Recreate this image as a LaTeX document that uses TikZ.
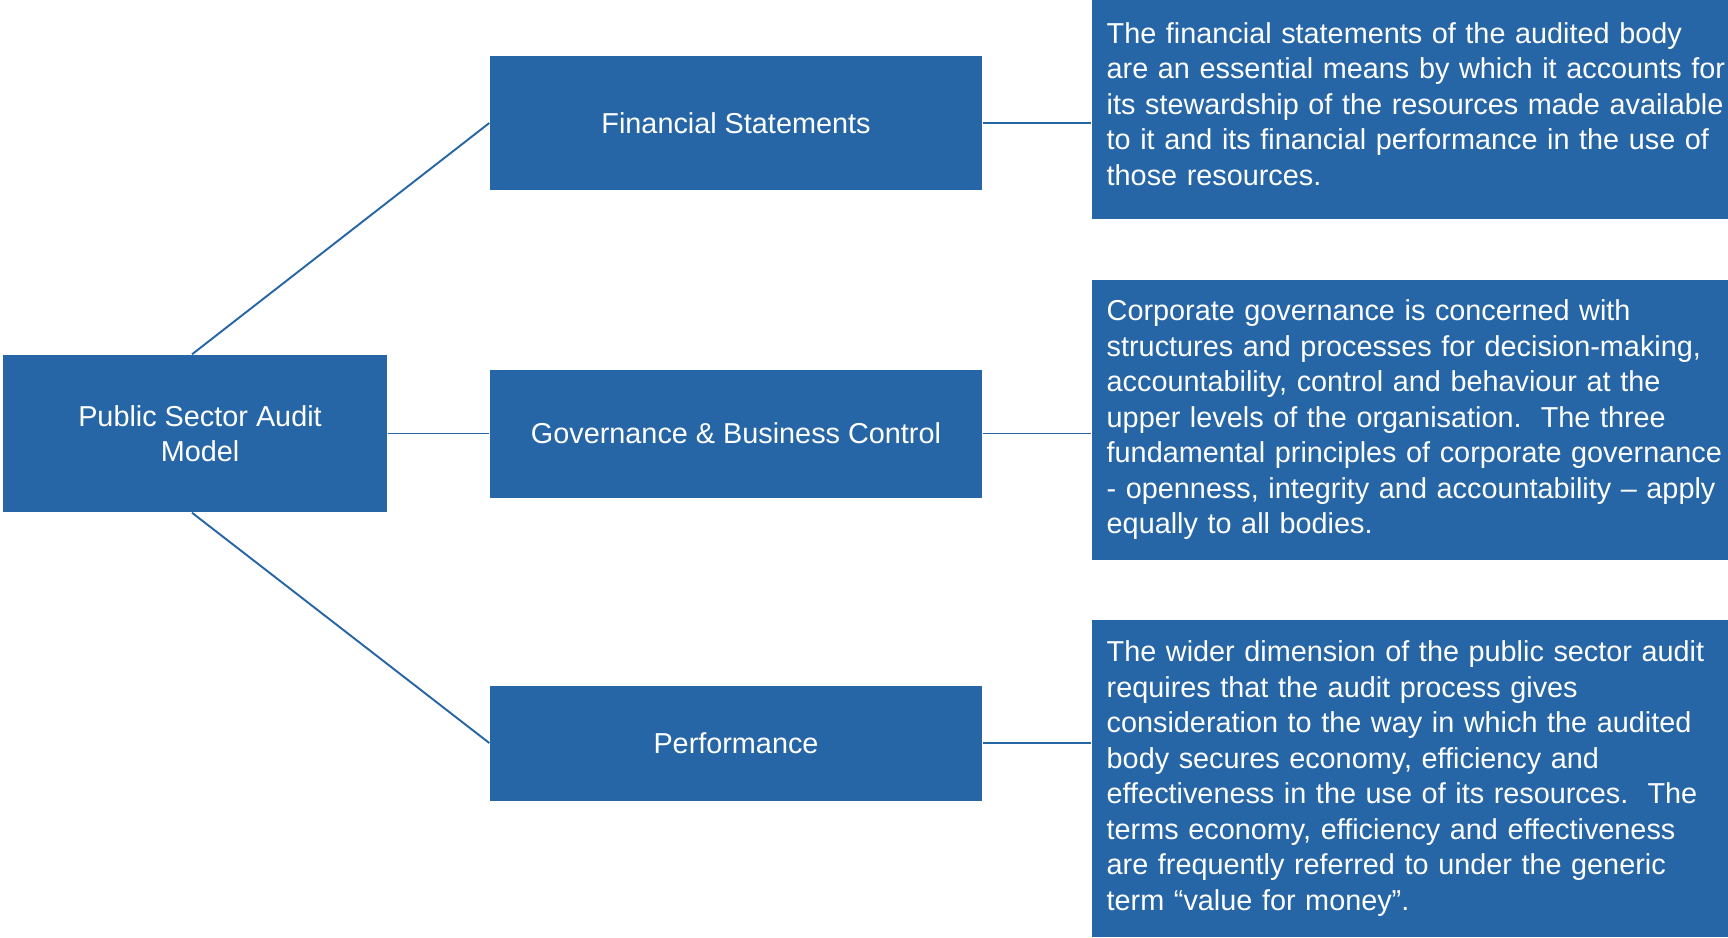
\documentclass[tikz,border=0pt]{standalone}
\usepackage{fontspec}
\setmainfont{Liberation Sans}
\definecolor{auditblue}{HTML}{2766A6}

\begin{document}
\begin{tikzpicture}[
    box/.style={fill=auditblue, text=white, align=center, inner sep=0pt,
        font=\fontsize{8.2}{10.1}\selectfont},
    desc/.style={fill=auditblue, text=white, align=left, anchor=west,
        text width=6.4cm, inner xsep=0.15cm, inner ysep=0pt,
        font=\fontsize{8.2}{10.1}\selectfont},
    link/.style={draw=auditblue, line width=0.55pt}]

    \useasboundingbox (0,0) rectangle (17.28,-9.37);

    % === left box ===
    \node[box, minimum width=3.84cm, minimum height=1.57cm] (model) at (1.95,-4.335)
        {\hspace*{0.1cm}Public Sector Audit\\\hspace*{0.1cm}Model};

    % === middle boxes ===
    \node[box, minimum width=4.92cm, minimum height=1.34cm] (fin) at (7.36,-1.23)
        {Financial Statements};
    \node[box, minimum width=4.92cm, minimum height=1.28cm] (gov) at (7.36,-4.335)
        {Governance \& Business Control};
    \node[box, minimum width=4.92cm, minimum height=1.15cm] (perf) at (7.36,-7.43)
        {Performance};

    % === right boxes ===
    \node[desc, minimum height=2.30cm] (finnote) at (10.91,-1.04)
        {The financial statements of the audited body\\
         are an essential means by which it accounts for\\
         its stewardship of the resources made available\\
         to it and its financial performance in the use of\\
         those resources.};
    \node[desc, minimum height=2.80cm] (govnote) at (10.91,-4.20)
        {Corporate governance is concerned with\\
         structures and processes for decision-making,\\
         accountability, control and behaviour at the\\
         upper levels of the organisation.\ \ The three\\
         fundamental principles of corporate governance\\
         - openness, integrity and accountability – apply\\
         equally to all bodies.};
    \node[desc, minimum height=3.17cm] (perfnote) at (10.91,-7.785)
        {The wider dimension of the public sector audit\\
         requires that the audit process gives\\
         consideration to the way in which the audited\\
         body secures economy, efficiency and\\
         effectiveness in the use of its resources.\ \ The\\
         terms economy, efficiency and effectiveness\\
         are frequently referred to under the generic\\
         term “value for money”.};

    % === connectors ===
    \draw[link] ([xshift=-0.03cm]model.north) -- (fin.west);
    \draw[link] (model.east) -- (gov.west);
    \draw[link] ([xshift=-0.03cm]model.south) -- (perf.west);

    \draw[link] (fin.east) -- (fin.east -| finnote.west);
    \draw[link] (gov.east) -- (gov.east -| govnote.west);
    \draw[link] (perf.east) -- (perf.east -| perfnote.west);

\end{tikzpicture}
\end{document}
